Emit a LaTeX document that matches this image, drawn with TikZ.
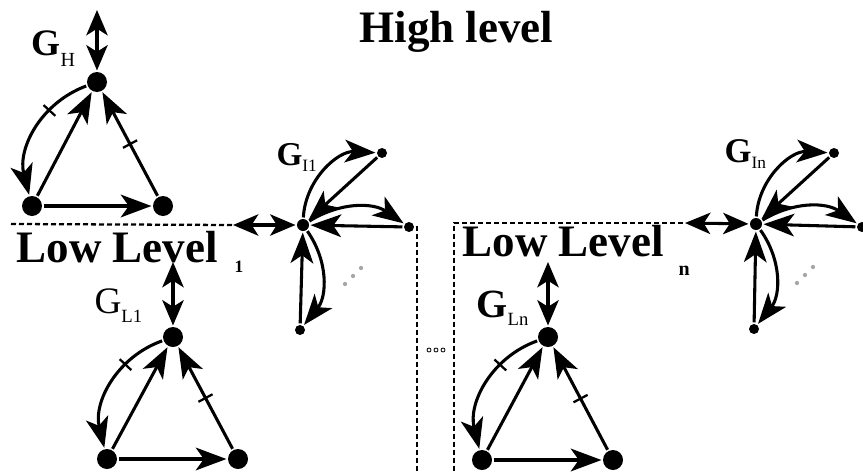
\documentclass[tikz,border=0pt]{standalone}
\usepackage{fontspec}
\setmainfont{Liberation Serif}
\usetikzlibrary{arrows.meta, decorations.markings}

\newcommand{\fsz}[1]{\fontsize{#1}{#1}\selectfont}

\begin{document}
\begin{tikzpicture}[
    x=0.75pt, y=-0.75pt,
    line width=2.3pt,
    arr/.style={-{Stealth[length=23pt,width=17pt,inset=6pt]}},
    dbl/.style={{Stealth[length=19pt,width=16pt,inset=5pt]}-{Stealth[length=19pt,width=16pt,inset=5pt]}},
    vtx/.style={circle,fill,inner sep=0pt,minimum size=15pt},
    hub/.style={circle,fill,inner sep=0pt,minimum size=9pt},
    leaf/.style={circle,fill,inner sep=0pt,minimum size=7.5pt},
    title/.style={anchor=base west,inner sep=0pt,font=\fsz{33.75}\bfseries},
    glab/.style={anchor=base west,inner sep=0pt},
    bound/.style={line width=1.7pt,dash pattern=on 3.75pt off 2.25pt},
    tick/.style={postaction={decorate,decoration={markings,
        mark=at position #1 with {\draw[-,line width=1.7pt] (0,-8) -- (0,8);}}}},
    dotty/.style={circle,fill=gray!70,draw=none,inner sep=0pt,minimum size=3.2pt},
    ring/.style={circle,draw,line width=0.6pt,inner sep=0pt,minimum size=3pt}
  ]
  \useasboundingbox (0,0) rectangle (863,471);

  % texts
  \node[title] (hl) at (358,42) {High level};
  \node[title] (ll1) at (15,262) {Low Level};
  \node[glab,font=\fsz{13}\bfseries] (ll1s) at (233,272) {1};
  \node[title] (lln) at (461,256) {Low Level};
  \node[glab,font=\fsz{15}\bfseries] (llns) at (677,275) {n};

  \node[glab] (gh) at (30,55) {{\fsz{28}\bfseries G}{\fsz{15}\raisebox{-9pt}{H}}};
  \node[glab] (gi1) at (275,165) {{\fsz{25}\bfseries G}{\fsz{13}\raisebox{-4.5pt}{I1}}};
  \node[glab] (gin) at (723,162) {{\fsz{26}\bfseries G}{\fsz{13}\raisebox{-4.5pt}{In}}};
  \node[glab] (gl1) at (93,313) {{\fsz{28}G}{\fsz{14}\raisebox{-6.75pt}{L1}}};
  \node[glab] (gln) at (475,317) {{\fsz{30}\bfseries G}{\fsz{14}\raisebox{-6pt}{Ln}}};

  % high level graph
  \node[vtx] (h1) at (97,82) {};
  \node[vtx] (h2) at (32,206) {};
  \node[vtx] (h3) at (163,206) {};
  \coordinate (hT) at (97,10);
  \draw[dbl] (hT) -- (h1);
  \draw[arr] (h2) -- (h1);
  \draw[arr,tick=0.5] (h3) -- (h1);
  \draw[arr] (h2) -- (h3);
  \draw[arr,tick=0.33] (h1) to[bend right=42] (h2);

  % low level 1
  \node[vtx] (a1) at (173,337) {};
  \node[vtx] (a2) at (107,459) {};
  \node[vtx] (a3) at (238,459) {};
  \coordinate (aT) at (173,262);
  \draw[dbl] (aT) -- (a1);
  \draw[arr] (a2) -- (a1);
  \draw[arr,tick=0.5] (a3) -- (a1);
  \draw[arr] (a2) -- (a3);
  \draw[arr,tick=0.33] (a1) to[bend right=42] (a2);

  % low level n
  \node[vtx] (b1) at (548,337) {};
  \node[vtx] (b2) at (482,460) {};
  \node[vtx] (b3) at (613,460) {};
  \coordinate (bT) at (548,262);
  \draw[dbl] (bT) -- (b1);
  \draw[arr] (b2) -- (b1);
  \draw[arr,tick=0.5] (b3) -- (b1);
  \draw[arr] (b2) -- (b3);
  \draw[arr,tick=0.33] (b1) to[bend right=42] (b2);

  % interface 1
  \node[hub] (c0) at (303,225) {};
  \node[leaf] (c1) at (382,153) {};
  \node[leaf] (c2) at (409,227) {};
  \node[leaf] (c3) at (300,330) {};
  \coordinate (cL) at (233,225);
  \draw[dbl] (cL) -- (c0);
  \draw[arr] (c1) -- (c0);
  \draw[arr] (c0) to[bend left=45] (c1);
  \draw[arr] (c2) -- (c0);
  \draw[arr] (c0) to[bend left=33] (c2);
  \draw[arr] (c3) -- (c0);
  \draw[arr] (c0) to[bend left=37] (c3);
  \foreach \p [count=\k] in {(345,284),(353,276),(361,268)}
    \node[dotty] (cd\k) at \p {};

  % interface n
  \node[hub] (d0) at (756,224) {};
  \node[leaf] (d1) at (834,153) {};
  \node[leaf] (d2) at (862,227) {};
  \node[leaf] (d3) at (754,329) {};
  \coordinate (dL) at (685,223);
  \draw[dbl] (dL) -- (d0);
  \draw[arr] (d1) -- (d0);
  \draw[arr] (d0) to[bend left=45] (d1);
  \draw[arr] (d2) -- (d0);
  \draw[arr] (d0) to[bend left=33] (d2);
  \draw[arr] (d3) -- (d0);
  \draw[arr] (d0) to[bend left=37] (d3);
  \foreach \p [count=\k] in {(797,283),(805,275),(813,267)}
    \node[dotty] (dd\k) at \p {};

  % level borders
  \coordinate (e1) at (11,224);
  \coordinate (e2) at (417,227);
  \coordinate (e3) at (417,471);
  \coordinate (e4) at (454,471);
  \coordinate (e5) at (454,223);
  \draw[bound] (e1) -- (cL);
  \draw[bound] (c2) -- (e2) -- (e3);
  \draw[bound] (e4) -- (e5) -- (dL);
  \foreach \x [count=\k] in {429,436,443}
    \node[ring] (m\k) at (\x,350) {};
\end{tikzpicture}
\end{document}
